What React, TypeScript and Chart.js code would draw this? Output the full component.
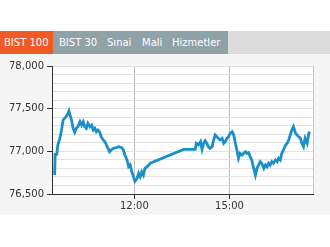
import React, { useEffect, useRef } from "react";
import { Chart, registerables } from "chart.js";

Chart.register(...registerables);

const tabLabels = ["BIST 100", "BIST 30", "Sınai", "Mali", "Hizmetler"];
const tabLefts = [4, 59, 107, 142, 172];

// minutes since midnight
const times = [
  569, 570, 573, 575, 579, 582, 585, 589, 593, 596, 598, 601, 604, 607, 610, 613, 617, 620, 623, 626,
  629, 632, 636, 639, 642, 645, 648, 651, 654, 657, 661, 664, 667, 670, 673, 676, 680, 686, 690, 696,
  699, 702, 706, 709, 712, 715, 718, 721, 725, 728, 731, 734, 737, 740, 744, 747, 750, 813, 835, 837,
  841, 845, 848, 851, 854, 857, 860, 863, 867, 870, 873, 876, 879, 882, 886, 889, 892, 895, 898, 901,
  905, 908, 911, 914, 917, 920, 924, 927, 930, 933, 936, 939, 942, 945, 949, 952, 955, 958, 961, 965,
  968, 971, 974, 977, 980, 983, 987, 990, 993, 996, 999, 1002, 1006, 1009, 1012, 1015, 1018, 1021, 1025, 1028,
  1031, 1034, 1037, 1040, 1043, 1047, 1050, 1052,
];
const values = [
  76722, 76965, 76965, 77074, 77153, 77250, 77367, 77394, 77426, 77473, 77426, 77367, 77270, 77223, 77270, 77289, 77347, 77308, 77347, 77289,
  77270, 77328, 77289, 77308, 77250, 77270, 77230, 77250, 77230, 77171, 77133, 77113, 77074, 77035, 76996, 77016, 77035, 77043, 77055, 77043,
  77016, 76957, 76898, 76820, 76840, 76761, 76703, 76650, 76683, 76742, 76703, 76761, 76722, 76801, 76820, 76840, 76860, 77023, 77023, 77094,
  77074, 77113, 77023, 77094, 77125, 77094, 77055, 77035, 77055, 77133, 77191, 77171, 77152, 77133, 77152, 77094, 77113, 77152, 77171, 77211,
  77230, 77191, 77094, 77016, 76918, 76977, 76957, 76977, 76996, 76977, 76985, 76938, 76898, 76820, 76722, 76801, 76840, 76879, 76860, 76801,
  76840, 76820, 76860, 76840, 76879, 76860, 76898, 76879, 76918, 76898, 76977, 77016, 77074, 77094, 77133, 77191, 77250, 77289, 77211, 77191,
  77171, 77152, 77094, 77055, 77152, 77094, 77211, 77230,
];
const xTicks = [720, 900];
const yMin = 76500;
const yMax = 78000;

const FONT = "'DejaVu Sans', sans-serif";

function fmtTime(m: number) {
  const h = Math.floor(m / 60);
  const mm = m % 60;
  return `${h}:${mm < 10 ? "0" : ""}${mm}`;
}

export default function App() {
  const ref = useRef<HTMLCanvasElement | null>(null);

  useEffect(() => {
    if (!ref.current) return;
    const bgPlugin = {
      id: "bg",
      beforeDraw(chart: any) {
        const { ctx, chartArea } = chart;
        ctx.save();
        ctx.fillStyle = "#ffffff";
        ctx.fillRect(chartArea.left, chartArea.top, chartArea.right - chartArea.left, chartArea.bottom - chartArea.top);
        ctx.restore();
      },
      afterDatasetsDraw(chart: any) {
        const { ctx, chartArea } = chart;
        ctx.save();
        ctx.strokeStyle = "#c8c8c8";
        ctx.lineWidth = 1;
        ctx.beginPath();
        ctx.moveTo(Math.round(chartArea.right) + 0.5, chartArea.top);
        ctx.lineTo(Math.round(chartArea.right) + 0.5, chartArea.bottom);
        ctx.stroke();
        ctx.restore();
      },
    };
    const chart = new Chart(ref.current, {
      type: "line",
      data: {
        datasets: [
          {
            data: times.map((t, i) => ({ x: t, y: values[i] })),
            borderColor: "#1b8fc7",
            borderWidth: 2.8,
            pointRadius: 0,
            tension: 0,
            fill: false,
          },
        ],
      },
      options: {
        animation: false,
        responsive: false,
        maintainAspectRatio: false,
        layout: { padding: { top: 12, right: 17, left: 0, bottom: 0 } },
        plugins: { legend: { display: false }, tooltip: { enabled: false } },
        scales: {
          x: {
            type: "linear",
            min: 564,
            max: 1058,
            afterBuildTicks: (scale: any) => {
              scale.ticks = xTicks.map((v) => ({ value: v }));
            },
            afterFit: (scale: any) => {
              scale.height = 21;
            },
            grid: { color: "#bdbdbd", tickLength: 5, tickColor: "#333333" },
            border: { color: "#333333", width: 1 },
            ticks: {
              padding: 1,
              color: "#333333",
              font: { family: FONT, size: 10 },
              callback: (v: any) => fmtTime(Number(v)),
              maxRotation: 0,
            },
          },
          y: {
            min: yMin,
            max: yMax,
            afterFit: (scale: any) => {
              scale.width = 52;
            },
            grid: {
              color: "#e2e2e2",
              tickLength: 5,
              tickColor: (c: any) => (c.tick && c.tick.value % 500 === 0 ? "#333333" : "rgba(0,0,0,0)"),
            },
            border: { color: "#333333", width: 1 },
            ticks: {
              stepSize: 100,
              autoSkip: false,
              padding: 3,
              color: "#333333",
              font: { family: FONT, size: 10 },
              callback: (v: any) => (Number(v) % 500 === 0 ? Number(v).toLocaleString("en-US") : ""),
            },
          },
        },
      },
      plugins: [bgPlugin],
    } as any);
    return () => chart.destroy();
  }, []);

  return (
    <div style={{ position: "absolute", left: 0, top: 0, width: 330, height: 247, background: "#ffffff", overflow: "hidden" }}>
      <div style={{ position: "absolute", left: 0, top: 31, width: 330, height: 23, background: "#dcdcdc" }} />
      <div style={{ position: "absolute", left: 53, top: 31, width: 175, height: 23, background: "#8fa2a8" }} />
      <div style={{ position: "absolute", left: 0, top: 31, width: 53, height: 23, background: "#f15a25" }} />
      {tabLabels.map((t, i) => (
        <div
          key={t}
          style={{
            position: "absolute",
            left: tabLefts[i],
            top: 31,
            height: 23,
            lineHeight: "23px",
            color: "#ffffff",
            fontFamily: FONT,
            fontSize: 10,
            whiteSpace: "nowrap",
          }}
        >
          {t}
        </div>
      ))}
      <div style={{ position: "absolute", left: 0, top: 54, width: 330, height: 161, background: "#f5f5f5" }}>
        <canvas ref={ref} width={330} height={161} style={{ display: "block", width: 330, height: 161 }} />
      </div>
    </div>
  );
}
